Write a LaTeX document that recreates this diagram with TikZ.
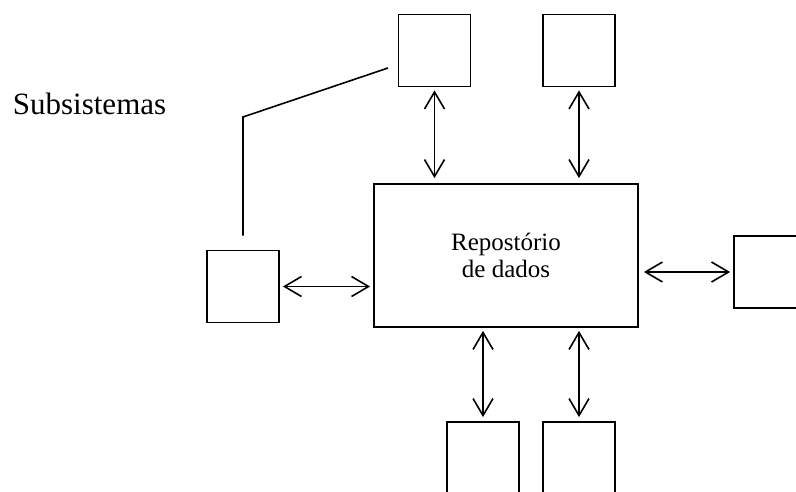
\documentclass[tikz,border=0pt]{standalone}
\usepackage{fontspec}
\setmainfont{Liberation Serif}
\usetikzlibrary{arrows.meta}
\begin{document}
\begin{tikzpicture}[x=1pt,y=-1pt,
  line width=1.8pt,
  subbox/.style={draw,line width=1.8pt,minimum width=72pt,minimum height=72pt,inner sep=0pt},
  link/.style={{Straight Barb[length=17pt,width=20pt,line width=1.6pt]}-{Straight Barb[length=17pt,width=20pt,line width=1.6pt]},line width=1.6pt}]
  \clip (0,0) rectangle (796,492);
  \fill[white] (0,0) rectangle (796,492);

  % central repository
  \node[draw,line width=1.8pt,minimum width=264pt,minimum height=143pt,inner sep=0pt,
        align=center,font=\fontsize{25}{27}\selectfont] (repo) at (506,255.5)
        {Repostório\\de dados};

  % subsystems
  \node[subbox] (t1) at (434.5,50.5) {};
  \node[subbox] (t2) at (579,50.5) {};
  \node[subbox] (lf) at (243,286.5) {};
  \node[subbox] (rt) at (770,272) {};
  \node[subbox] (b1) at (483,458) {};
  \node[subbox] (b2) at (579,458) {};

  % label and its leader line
  \node[anchor=base west,inner sep=0pt,font=\fontsize{31}{33}\selectfont] (lab) at (12,115) {Subsistemas};
  \coordinate (bend) at (243,117);
  \coordinate (tip) at (388,68);
  \draw[line width=1.6pt] ([yshift=14pt]lf.north) -- (bend) -- (tip);

  % data exchange with the repository
  \draw[link,shorten <=3pt,shorten >=5pt] (t1.south) -- (t1.south |- repo.north);
  \draw[link,shorten <=3pt,shorten >=5pt] (t2.south) -- (t2.south |- repo.north);
  \draw[link,shorten <=3pt,shorten >=4pt] (b1.north |- repo.south) -- (b1.north);
  \draw[link,shorten <=3pt,shorten >=4pt] (b2.north |- repo.south) -- (b2.north);
  \draw[link,shorten <=3pt,shorten >=3pt] (lf.east) -- (lf.east -| repo.west);
  \draw[link,shorten <=5pt,shorten >=3pt] (rt.west -| repo.east) -- (rt.west);
\end{tikzpicture}
\end{document}
